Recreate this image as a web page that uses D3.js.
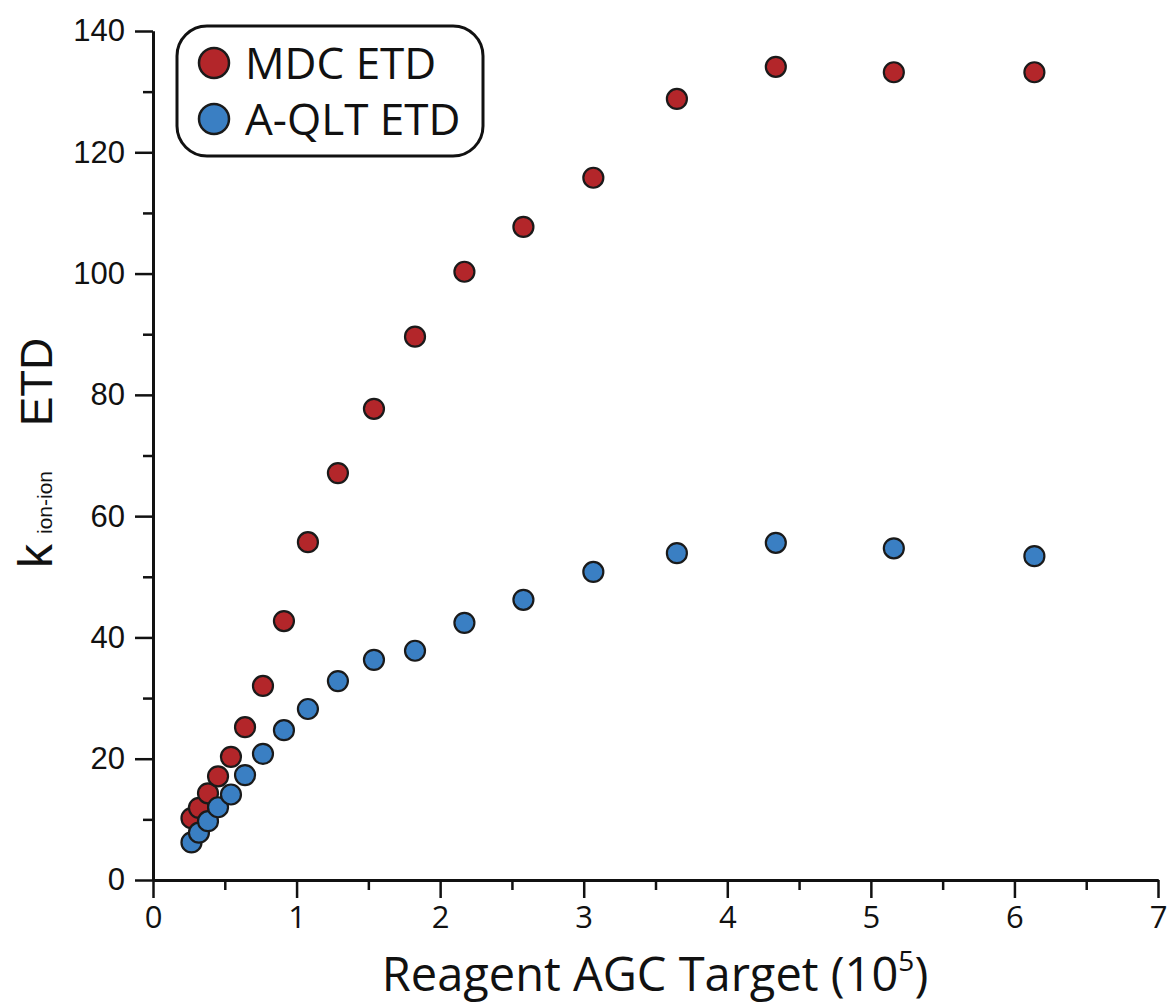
<!DOCTYPE html>
<html>
<head>
<meta charset="utf-8">
<script src="https://cdn.jsdelivr.net/npm/d3@7"></script>
<style>
  html, body { margin: 0; padding: 0; background: #fff; }
  svg { display: block; }
</style>
</head>
<body>
<svg id="chart" width="1171" height="1005"></svg>
<script>
// ---- Data ----
const reagentAGC = [0.268, 0.32, 0.383, 0.453, 0.543, 0.641, 0.766, 0.912, 1.079, 1.288, 1.539, 1.825, 2.169, 2.58, 3.067, 3.649, 4.338, 5.16, 6.139];
const mdcETD   = [10.2, 11.9, 14.3, 17.1, 20.3, 25.2, 32.0, 42.7, 55.7, 67.1, 77.7, 89.6, 100.3, 107.7, 115.8, 128.8, 134.1, 133.2, 133.2];
const aqltETD  = [6.2, 7.8, 9.7, 12.0, 14.1, 17.3, 20.8, 24.7, 28.2, 32.8, 36.3, 37.8, 42.4, 46.2, 50.8, 53.9, 55.6, 54.7, 53.4];
const seriesNames = ["MDC ETD", "A-QLT ETD"];
const xTickValues = [0, 1, 2, 3, 4, 5, 6, 7];
const yTickValues = [0, 20, 40, 60, 80, 100, 120, 140];

const colors = { "MDC ETD": "#b3262a", "A-QLT ETD": "#3a7fc3" };

const svg = d3.select("#chart");
const x = d3.scaleLinear().domain([0, 7]).range([153, 1158]);
const y = d3.scaleLinear().domain([0, 140]).range([880, 31]);

const axisColor = "#111";

// Minor ticks
const xMinor = d3.range(0.5, 7, 1);
const yMinor = d3.range(10, 140, 20);

const gx = svg.append("g").attr("transform", "translate(0,880)");
gx.call(d3.axisBottom(x).tickValues(xMinor).tickSize(10).tickSizeOuter(0).tickFormat(""));
const gx2 = svg.append("g").attr("transform", "translate(0,880)");
gx2.call(d3.axisBottom(x).tickValues(xTickValues).tickSize(18).tickSizeOuter(0).tickPadding(8).tickFormat(d3.format("d")));

const gy = svg.append("g").attr("transform", "translate(153,0)");
gy.call(d3.axisLeft(y).tickValues(yMinor).tickSize(10).tickSizeOuter(0).tickFormat(""));
const gy2 = svg.append("g").attr("transform", "translate(153,0)");
gy2.call(d3.axisLeft(y).tickValues(yTickValues).tickSize(18).tickSizeOuter(0).tickPadding(10).tickFormat(d3.format("d")));

svg.selectAll(".domain").attr("stroke", axisColor).attr("stroke-width", 3);
svg.selectAll(".tick line").attr("stroke", axisColor).attr("stroke-width", 2.5);

gx2.selectAll("text")
  .attr("font-family", "'Open Sans', sans-serif")
  .attr("font-size", 31)
  .attr("fill", "#111");
gy2.selectAll("text")
  .attr("font-family", "'Liberation Sans', Arial, sans-serif")
  .attr("font-size", 31)
  .attr("fill", "#111");

// X axis title
const xt = svg.append("text")
  .attr("x", 655).attr("y", 991)
  .attr("text-anchor", "middle")
  .attr("font-family", "'Open Sans', sans-serif")
  .attr("font-size", 47)
  .attr("fill", "#111");
xt.append("tspan").text("Reagent AGC Target (10");
xt.append("tspan").attr("font-size", 28).attr("dy", -20).text("5");
xt.append("tspan").attr("dy", 20).text(")");

// Y axis title (rotated)
const yt = svg.append("text")
  .attr("transform", "translate(52,0) rotate(-90)")
  .attr("font-family", "'Liberation Sans', Arial, sans-serif")
  .attr("fill", "#111");
yt.append("tspan").attr("x", -568).attr("y", 0).attr("font-size", 48).text("k");
yt.append("tspan").attr("x", -534).attr("y", 0).attr("font-size", 21).text("ion-ion");
yt.append("tspan").attr("x", -426).attr("y", 0).attr("font-size", 44).text("ETD");

// Points
const series = [
  { name: seriesNames[0], values: mdcETD },
  { name: seriesNames[1], values: aqltETD }
];
series.forEach(s => {
  svg.append("g").selectAll("circle")
    .data(reagentAGC.map((xv, i) => ({ x: xv, y: s.values[i] })))
    .join("circle")
    .attr("cx", d => x(d.x))
    .attr("cy", d => y(d.y))
    .attr("r", 10)
    .attr("fill", colors[s.name])
    .attr("stroke", "#1a1a1a")
    .attr("stroke-width", 2.2);
});

// Legend
const lg = svg.append("g");
lg.append("rect")
  .attr("x", 177).attr("y", 26).attr("width", 306).attr("height", 130)
  .attr("rx", 30).attr("ry", 30)
  .attr("fill", "#fff").attr("stroke", "#111").attr("stroke-width", 3);
seriesNames.forEach((n, i) => {
  const cy = 63 + i * 56;
  lg.append("circle")
    .attr("cx", 214).attr("cy", cy).attr("r", 15)
    .attr("fill", colors[n]).attr("stroke", "#1a1a1a").attr("stroke-width", 2.5);
  lg.append("text")
    .attr("x", 245).attr("y", cy + 16)
    .attr("font-family", "'Open Sans', sans-serif")
    .attr("font-size", 44)
    .attr("fill", "#111")
    .text(n);
});
</script>
</body>
</html>
